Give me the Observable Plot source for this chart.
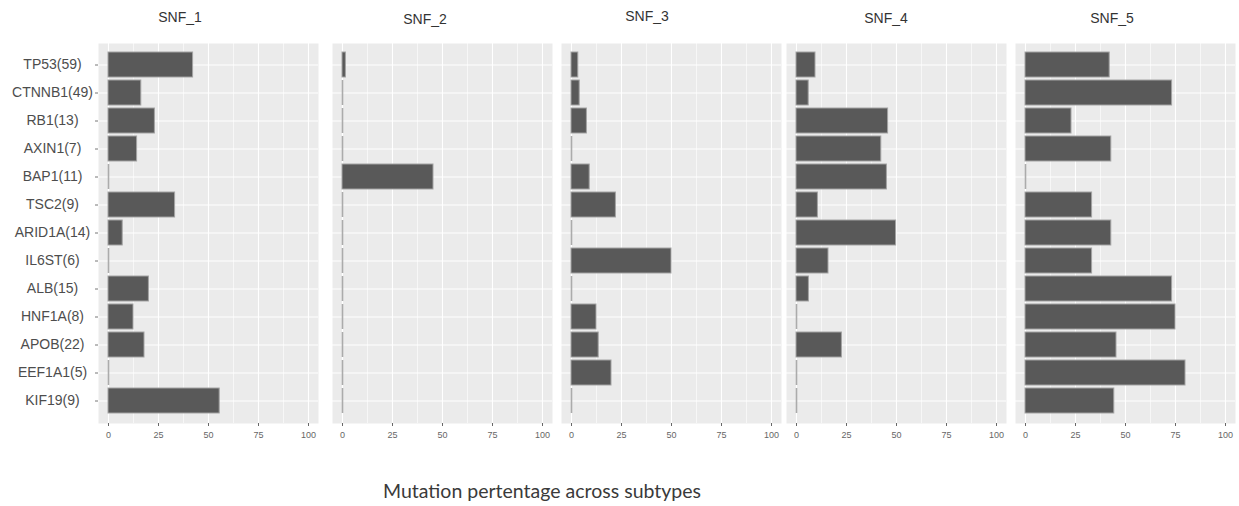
<!DOCTYPE html>
<html>
<head>
<meta charset="utf-8">
<script src="https://cdn.jsdelivr.net/npm/d3@7"></script>
<script src="https://cdn.jsdelivr.net/npm/@observablehq/plot@0.6"></script>
<style>
  html, body { margin: 0; padding: 0; background: #fff; }
  #chart { position: relative; width: 1239px; height: 506px; overflow: hidden; font-family: "Liberation Sans", Arial, sans-serif; }
  #chart svg { position: absolute; overflow: visible; }
  .title { position: absolute; font-size: 14px; color: #333; transform: translateX(-50%); white-space: nowrap; }
  .caption { position: absolute; font-family: Lato, "Open Sans", sans-serif; font-size: 19.5px; line-height: 20px; color: #3a3a3a; white-space: nowrap; }
</style>
</head>
<body>
<div id="chart"></div>
<script>
// Genes (with sample counts) in display order, top to bottom
const genes = ["TP53(59)", "CTNNB1(49)", "RB1(13)", "AXIN1(7)", "BAP1(11)", "TSC2(9)", "ARID1A(14)",
               "IL6ST(6)", "ALB(15)", "HNF1A(8)", "APOB(22)", "EEF1A1(5)", "KIF19(9)"];

const subtypes = ["SNF_1", "SNF_2", "SNF_3", "SNF_4", "SNF_5"];

// Mutation percentage per gene, one array per subtype
const snf1 = [42.3, 16.4, 23.2, 14.3, 0, 33.3, 7.1, 0, 20.2, 12.5, 18.0, 0, 55.6];
const snf2 = [1.7, 0, 0, 0, 45.5, 0, 0, 0, 0, 0, 0, 0, 0];
const snf3 = [3.4, 4.1, 7.7, 0, 9.1, 22.2, 0, 50.0, 0, 12.5, 13.6, 20.0, 0];
const snf4 = [9.5, 6.1, 45.8, 42.4, 45.2, 10.7, 49.8, 16.0, 6.2, 0, 22.7, 0, 0];
const snf5 = [42.1, 73.3, 23.0, 42.9, 0, 33.3, 42.9, 33.3, 73.3, 75.0, 45.5, 80.0, 44.4];

const xTicks = [0, 25, 50, 75, 100];
const xMinor = [12.5, 37.5, 62.5, 87.5];

const series = [snf1, snf2, snf3, snf4, snf5];

// Panel placement
const panelLeft = [98, 332, 561, 786, 1015];
const titleX = [180, 425, 647, 886, 1112];
const titleTop = [9, 11, 8, 10, 10];
const panelTop = 43, panelW = 220, panelH = 380;

const root = document.getElementById("chart");

series.forEach((vals, i) => {
  const rows = genes.map((g, j) => ({gene: g, v: vals[j]}));
  const first = i === 0;
  const marginLeft = first ? panelLeft[0] : 0;

  const marks = [
    Plot.frame({fill: "#ebebeb", stroke: "none"}),
    Plot.gridX({ticks: xMinor, stroke: "#fff", strokeOpacity: 1, strokeWidth: 0.6}),
    Plot.gridX({ticks: xTicks, stroke: "#fff", strokeOpacity: 1, strokeWidth: 1.1}),
    Plot.gridY({stroke: "#fff", strokeOpacity: 1, strokeWidth: 1.1}),
    Plot.barX(rows.filter(d => d.v > 0), {x: "v", y: "gene", fill: "#595959", stroke: "#a3a3a3", strokeWidth: 1}),
    Plot.tickX(rows.filter(d => d.v === 0), {x: "v", y: "gene", stroke: "#ababab", strokeWidth: 1.6}),
    Plot.axisX({ticks: xTicks, tickSize: 3, tickPadding: 5, fontSize: 9, color: "#666",
                fontFamily: "'Liberation Sans Narrow', 'Liberation Sans', sans-serif", label: null})
  ];
  if (first) {
    marks.push(
      Plot.axisY({tickSize: 3, tickFormat: () => "", color: "#777", label: null}),
      Plot.text(genes, {y: d => d, text: d => d, frameAnchor: "left", dx: -46, textAnchor: "middle",
                        fontSize: 14, fill: "#4d4d4d"})
    );
  } else {
    marks.push(Plot.axisY({ticks: [], label: null}));
  }

  const svg = Plot.plot({
    width: marginLeft + panelW + 10,
    height: panelH + 30,
    marginLeft,
    marginRight: 10,
    marginTop: 0,
    marginBottom: 30,
    style: {fontFamily: "'Liberation Sans', Arial, sans-serif", background: "transparent", overflow: "visible"},
    x: {domain: [-5, 105]},
    y: {domain: genes, paddingInner: 0.1, paddingOuter: 0.15, axis: null},
    marks
  });
  svg.style.left = (panelLeft[i] - marginLeft) + "px";
  svg.style.top = panelTop + "px";
  root.appendChild(svg);

  const t = document.createElement("div");
  t.className = "title";
  t.textContent = subtypes[i];
  t.style.left = titleX[i] + "px";
  t.style.top = titleTop[i] + "px";
  root.appendChild(t);
});

const cap = document.createElement("div");
cap.className = "caption";
cap.textContent = "Mutation pertentage across subtypes";
cap.style.left = "383px";
cap.style.top = "481px";
root.appendChild(cap);
</script>
</body>
</html>
